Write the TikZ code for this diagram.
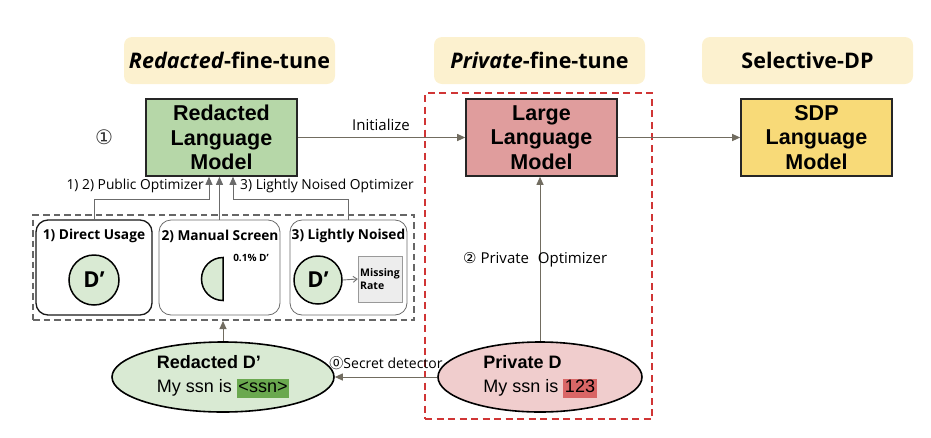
\documentclass[tikz,border=0pt]{standalone}
\usepackage{fontspec}
\setmainfont{Open Sans}
\newfontfamily\arialf{Liberation Sans}
\newfontfamily\dejavuf{DejaVu Sans}
\newfontfamily\cjkf{Noto Sans CJK JP}
\usetikzlibrary{arrows.meta,shapes.geometric}
\definecolor{cream}{HTML}{FCF1CF}
\definecolor{lmgreen}{HTML}{B6D7A8}
\definecolor{lmred}{HTML}{E09D9D}
\definecolor{lmyellow}{HTML}{F8DA78}
\definecolor{elgreen}{HTML}{D9EAD3}
\definecolor{elred}{HTML}{F0CDCD}
\definecolor{hlgreen}{HTML}{6AA84F}
\definecolor{hlred}{HTML}{D96666}
\definecolor{arrowc}{HTML}{716C60}
\definecolor{reddash}{HTML}{D03535}
\definecolor{graydash}{HTML}{666666}
\definecolor{subgray}{HTML}{6B6B6B}
\newcommand\myhl[2]{{\setlength{\fboxsep}{1.5pt}\colorbox{#1}{\vphantom{Mg}#2}}}
\begin{document}
\begin{tikzpicture}[x=1pt,y=-1pt,
  titlebox/.style={fill=cream, rounded corners=8pt, minimum width=211pt, minimum height=47pt, inner sep=0pt, font=\fontsize{21.5}{24}\selectfont\bfseries},
  lmbox/.style={draw=black!85, line width=1.6pt, minimum width=151pt, minimum height=77pt, inner sep=0pt, align=center, font=\arialf\bfseries\fontsize{21.5}{24.5}\selectfont},
  arr/.style={draw=arrowc, line width=1pt, -{Triangle[length=8pt,width=7pt]}},
  subarr/.style={draw=subgray, line width=0.9pt, -{Triangle[length=8pt,width=7pt]}},
  subbox/.style={rounded corners=12pt, minimum height=95pt, inner sep=0pt},
  subtitle/.style={inner sep=0pt, font=\fontsize{13.7}{16}\selectfont\bfseries},
  dcircle/.style={circle, draw=black, line width=1.5pt, fill=elgreen, minimum size=50pt, inner sep=0pt, font=\fontsize{22}{24}\selectfont\bfseries},
  lbl/.style={inner sep=0pt, font=\fontsize{13.8}{16}\selectfont},
  eltext/.style={ellipse, draw=black, line width=1.6pt, inner sep=0pt, align=left, font=\arialf\fontsize{18}{24}\selectfont}
]
\useasboundingbox (0,0) rectangle (931,437);

% title boxes
\node[titlebox] (t1) at (229.5,60.5) {\textit{Redacted}-fine-tune};
\node[titlebox] (t2) at (539.5,60.5) {\textit{Private}-fine-tune};
\node[titlebox] (t3) at (807.5,60.5) {Selective-DP};

% private dashed region
\node[draw=reddash, line width=2pt, dash pattern=on 7pt off 4.5pt, minimum width=227pt, minimum height=326pt, inner sep=0pt] (pbox) at (538.5,256) {};

% language models
\node[lmbox, fill=lmgreen] (rlm) at (221.5,137.5) {Redacted\\Language\\Model};
\node[lmbox, fill=lmred] (llm) at (541.5,137.5) {Large\\Language\\Model};
\node[lmbox, fill=lmyellow] (sdp) at (816.5,137.5) {SDP\\Language\\Model};

\node[inner sep=0pt, text=black!80, font=\dejavuf\fontsize{20}{22}\selectfont] (one) at (104,137) {①};

\draw[arr] (rlm.east) -- (llm.west);
\node[inner sep=0pt, font=\fontsize{15}{18}\selectfont] (initl) at (381,125) {Initialize};
\draw[arr] (llm.east) -- (sdp.west);

% public data region
\node[draw=graydash, line width=2pt, dash pattern=on 6.5pt off 4pt, minimum width=381pt, minimum height=105pt, inner sep=0pt] (gbox) at (223.5,267.5) {};

\node[subbox, draw=black!90, line width=1.3pt, minimum width=116pt] (b1) at (94,267.5) {};
\node[subbox, draw=subgray, line width=0.8pt, minimum width=121pt] (b2) at (219.5,267.5) {};
\node[subbox, draw=subgray, line width=0.8pt, minimum width=117pt] (b3) at (348.5,267.5) {};

\node[subtitle] (b1t) at (94,236) {1) Direct Usage};
\node[subtitle] (b2t) at (220,236) {2) Manual Screen};
\node[subtitle] (b3t) at (348.5,236) {3) Lightly Noised};

\node[dcircle] (c1) at (94,280) {D’};
\draw[line width=1.5pt, fill=elgreen] (223,300.5) arc[start angle=90, end angle=270, radius=21.5] -- cycle;
\node[inner sep=0pt, font=\fontsize{10}{11}\selectfont\bfseries] (pct) at (251,258) {0.1\% D’};
\node[dcircle, minimum size=48pt] (c3) at (318,280) {D’};
\node[draw=black!40, fill=black!7, minimum width=44pt, minimum height=46pt, inner sep=1pt, align=left, font=\fontsize{10.5}{12.5}\selectfont\bfseries] (mr) at (380,279) {Missing\\Rate};
\draw[draw=black!55, line width=0.9pt, -{Straight Barb[length=4pt,width=6pt]}] (c3.east) -- (mr.west);

% optimizers into the redacted model
\coordinate (j1) at (209,199);
\coordinate (j3) at (233,199);
\draw[subarr] (b1.north) |- (j1) -- (j1 |- rlm.south);
\draw[subarr] (b2.north) -- (b2.north |- rlm.south);
\draw[subarr] (b3.north) |- (j3) -- (j3 |- rlm.south);
\node[lbl, anchor=east] (publ) at (204,186) {1) 2) Public Optimizer};
\node[lbl, anchor=west] (lnl) at (240,186) {3) Lightly Noised Optimizer};

% data ellipses
\node[eltext, fill=elgreen, minimum width=222pt, minimum height=70pt] (rd) at (223,377)
  {\textbf{Redacted D’}\\My ssn is \myhl{hlgreen}{<ssn>}};
\node[eltext, fill=elred, minimum width=204pt, minimum height=70pt] (pd) at (540,377)
  {\textbf{Private D}\\My ssn is \myhl{hlred}{123}};

\draw[arr] (rd.north) -- (rd.north |- gbox.south);
\draw[arr] (pd.west) -- (rd.east);
\node[inner sep=0pt, font=\fontsize{14}{16}\selectfont] (secl) at (386,363) {{\cjkf ⓪}Secret detector};
\draw[arr] (pd.north) -- (pd.north |- llm.south);
\node[inner sep=0pt, anchor=west, font=\fontsize{15}{17}\selectfont] (privl) at (463,260) {{\dejavuf ②} Private\hspace{5pt} Optimizer};
\end{tikzpicture}
\end{document}
